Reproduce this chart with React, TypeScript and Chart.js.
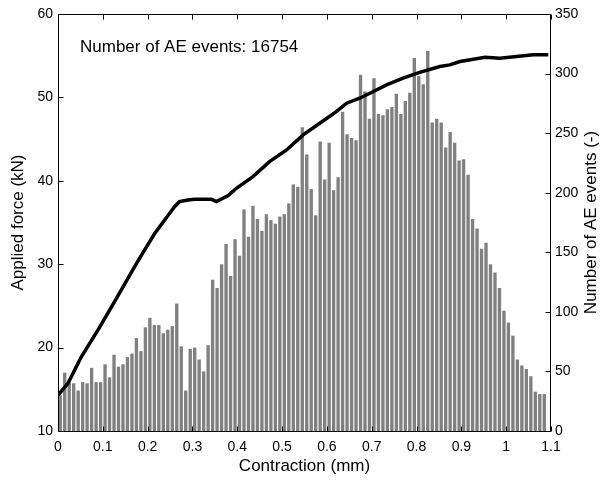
import React, { useEffect, useRef } from "react";
import { Chart, registerables } from "chart.js";

Chart.register(...registerables);

// AE event histogram: bins of 0.01 mm starting at 0
const binStart = 0;
const binWidth = 0.01;
const aeCounts = [
  30, 49, 41, 40, 34, 41, 40, 53, 41, 41,
  56, 45, 64, 54, 56, 62, 65, 78, 67, 87,
  95, 89, 89, 82, 85, 88, 107, 71, 34, 69,
  70, 60, 50, 72, 127, 120, 140, 157, 130, 161,
  147, 186, 163, 189, 178, 168, 182, 177, 174, 180,
  182, 191, 207, 205, 255, 232, 203, 181, 243, 211,
  242, 202, 213, 268, 249, 246, 244, 299, 285, 262,
  296, 266, 265, 270, 272, 283, 266, 277, 284, 313,
  298, 291, 319, 259, 262, 259, 238, 251, 242, 227,
  228, 215, 178, 170, 153, 158, 140, 133, 120, 101,
  91, 80, 60, 55, 52, 46, 33, 31, 31,
];

// Applied force curve
const forceX = [
  0.0, 0.022, 0.052, 0.089, 0.111, 0.141, 0.171, 0.193, 0.216, 0.238,
  0.26, 0.271, 0.29, 0.305, 0.342, 0.353, 0.379, 0.398, 0.435, 0.472,
  0.51, 0.547, 0.584, 0.621, 0.644, 0.673, 0.696, 0.733, 0.77, 0.807,
  0.852, 0.874, 0.897, 0.953, 0.986, 1.023, 1.061, 1.094,
];
const forceY = [
  14.3, 15.7, 18.9, 22.1, 24.1, 26.9, 29.7, 31.7, 33.7, 35.3,
  36.9, 37.5, 37.7, 37.8, 37.8, 37.5, 38.2, 39.1, 40.5, 42.3,
  43.7, 45.5, 46.9, 48.3, 49.3, 49.9, 50.5, 51.5, 52.3, 53.0,
  53.7, 53.9, 54.3, 54.8, 54.7, 54.9, 55.1, 55.1,
];

const xRange = [0, 1.1];
const xStep = 0.1;
const forceRange = [10, 60];
const forceStep = 10;
const aeRange = [0, 350];
const aeStep = 50;

const xTitle = "Contraction (mm)";
const yTitle = "Applied force (kN)";
const y2Title = "Number of AE events (-)";
const annotationText = "Number of AE events: 16754";

const FONT = '"Liberation Sans", Arial, sans-serif';

const decorPlugin = {
  id: "decor",
  afterDraw(chart: any) {
    const { ctx, chartArea } = chart;
    const { left, right, top, bottom } = chartArea;
    const xs = chart.scales.x;
    const ys = chart.scales.y;
    const y2s = chart.scales.y2;
    const L = Math.round(left) + 0.5;
    const R = Math.round(right) - 0.5;
    const T = Math.round(top) + 0.5;
    const B = Math.round(bottom) + 0.5;
    const tl = 5;
    ctx.save();
    ctx.strokeStyle = "#000";
    ctx.lineWidth = 1;
    ctx.beginPath();
    ctx.rect(L, T, R - L, B - T);
    xs.ticks.forEach((t: any) => {
      const px = Math.round(xs.getPixelForValue(t.value)) + 0.5;
      ctx.moveTo(px, B);
      ctx.lineTo(px, B - tl);
      ctx.moveTo(px, T);
      ctx.lineTo(px, T + tl);
    });
    ys.ticks.forEach((t: any) => {
      const py = Math.round(ys.getPixelForValue(t.value)) + 0.5;
      ctx.moveTo(L, py);
      ctx.lineTo(L + tl, py);
    });
    y2s.ticks.forEach((t: any) => {
      const py = Math.round(y2s.getPixelForValue(t.value)) + 0.5;
      ctx.moveTo(R, py);
      ctx.lineTo(R - tl, py);
    });
    ctx.stroke();

    ctx.fillStyle = "#000";
    ctx.font = `17px ${FONT}`;
    ctx.textAlign = "center";
    ctx.textBaseline = "middle";
    ctx.fillText(xTitle, (left + right) / 2, bottom + 35.5);
    const mid = (top + bottom) / 2;
    ctx.save();
    ctx.translate(18, mid);
    ctx.rotate(-Math.PI / 2);
    ctx.fillText(yTitle, 0, 0);
    ctx.restore();
    ctx.save();
    ctx.translate(right + 40, mid);
    ctx.rotate(-Math.PI / 2);
    ctx.fillText(y2Title, 0, 0);
    ctx.restore();

    ctx.textAlign = "left";
    ctx.fillText(annotationText, left + 22, top + 33.5);
    ctx.restore();
  },
};

export default function App() {
  const canvasRef = useRef<HTMLCanvasElement | null>(null);

  useEffect(() => {
    if (!canvasRef.current) return;
    const barData = aeCounts.map((c, i) => ({ x: binStart + binWidth * (i + 0.5), y: c }));
    const lineData = forceX.map((x, i) => ({ x, y: forceY[i] }));
    const tickFont = { family: FONT, size: 14 };
    const chart = new Chart(canvasRef.current, {
      type: "bar",
      data: {
        datasets: [
          {
            type: "line",
            data: lineData,
            xAxisID: "x",
            yAxisID: "y",
            borderColor: "#000",
            borderWidth: 3.5,
            pointRadius: 0,
            tension: 0,
            fill: false,
            order: 0,
          } as any,
          {
            type: "bar",
            data: barData,
            xAxisID: "x",
            yAxisID: "y2",
            backgroundColor: "#808080",
            borderWidth: 0,
            barPercentage: 0.75,
            categoryPercentage: 1,
            grouped: false,
            order: 1,
          } as any,
        ],
      },
      options: {
        animation: false,
        responsive: true,
        maintainAspectRatio: false,
        layout: { padding: { top: 14, left: 0, right: 0, bottom: 0 } },
        plugins: { legend: { display: false }, tooltip: { enabled: false } },
        scales: {
          x: {
            type: "linear",
            offset: false,
            min: xRange[0],
            max: xRange[1],
            grid: { display: false, drawTicks: false, offset: false },
            border: { display: false },
            ticks: {
              stepSize: xStep,
              autoSkip: false,
              maxRotation: 0,
              color: "#000",
              font: tickFont,
              padding: 8,
              callback: (v: any) => String(Number(Number(v).toFixed(1))),
            },
            afterFit: (s: any) => {
              s.height = 50;
            },
          },
          y: {
            type: "linear",
            position: "left",
            min: forceRange[0],
            max: forceRange[1],
            grid: { display: false, drawTicks: false },
            border: { display: false },
            ticks: { stepSize: forceStep, color: "#000", font: tickFont, padding: 5 },
            afterFit: (s: any) => {
              s.width = 58;
            },
          },
          y2: {
            type: "linear",
            position: "right",
            min: aeRange[0],
            max: aeRange[1],
            grid: { display: false, drawTicks: false },
            border: { display: false },
            ticks: { stepSize: aeStep, color: "#000", font: tickFont, padding: 4 },
            afterFit: (s: any) => {
              s.width = 49;
            },
          },
        },
      } as any,
      plugins: [decorPlugin],
    });
    return () => chart.destroy();
  }, []);

  return (
    <div style={{ position: "fixed", left: 0, top: 0, width: 600, height: 481, background: "#fff" }}>
      <canvas ref={canvasRef} />
    </div>
  );
}
